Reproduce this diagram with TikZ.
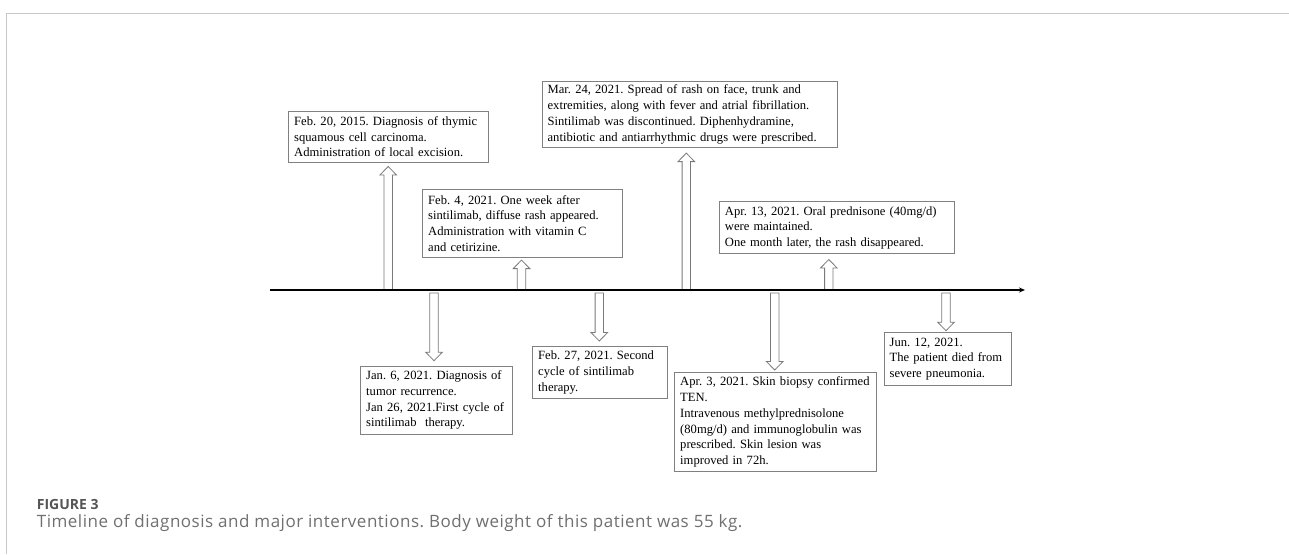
\documentclass[tikz,border=0pt]{standalone}
\usepackage{fontspec}
\setmainfont{Liberation Serif}
\newfontfamily\capfont[LetterSpace=3]{Open Sans}
\newfontfamily\figfont{Open Sans}
\usetikzlibrary{calc,arrows.meta}
\definecolor{boxgray}{HTML}{808080}
\definecolor{arrgray}{HTML}{7A7A7A}
\definecolor{framegray}{HTML}{C8C8C8}
\definecolor{figgray}{HTML}{555555}
\definecolor{capgray}{HTML}{707070}
\newcommand{\boxfont}{\fontsize{12.6}{15.7}\selectfont\frenchspacing}
\newcommand{\blkarrow}[3]{%
  \coordinate (h#1) at ($(#3)!8.5pt!(#2)$);
  \draw[blk] ($(#2)!4.2pt!90:(#3)$) -- ($(h#1)!4.2pt!90:(#3)$) -- ($(h#1)!8.3pt!90:(#3)$) -- (#3)
    -- ($(h#1)!8.3pt!-90:(#3)$) -- ($(h#1)!4.2pt!-90:(#3)$) -- ($(#2)!4.2pt!-90:(#3)$) -- cycle;}
\begin{document}
\begin{tikzpicture}[x=1pt,y=-1pt,
  evbox/.style={draw=boxgray, line width=0.8pt, fill=white, anchor=north west,
    inner xsep=5.5pt, inner ysep=1pt, align=left, font=\boxfont},
  blk/.style={draw=arrgray, line width=0.8pt, fill=white, line join=miter},
  timeline/.style={line width=1.4pt, -{Stealth[length=6pt,width=5pt]}},
  frameline/.style={draw=framegray, line width=1pt}]
\useasboundingbox (0,0) rectangle (1289,554);
\fill[white] (0,0) rectangle (1289,554);
% frame
\coordinate (fA) at (6.5,554);
\coordinate (fB) at (6.5,13.3);
\coordinate (fC) at (1289,13.3);
\draw[frameline] (fA) -- (fB) -- (fC);

% boxes
\node[evbox, text width=189pt, minimum width=200pt, minimum height=51.6pt] (box1) at (288.3,110.7)
 {Feb. 20, 2015. Diagnosis of thymic\\squamous cell carcinoma.\\Administration of local excision.};
\node[evbox, text width=189pt, minimum width=200pt, minimum height=67.4pt] (box2) at (422.3,189.3)
 {Feb. 4, 2021. One week after\\sintilimab, diffuse rash appeared.\\Administration with vitamin C\\and cetirizine.};
\node[evbox, text width=284pt, minimum width=295pt, minimum height=66.6pt] (box3) at (541.7,80.7)
 {Mar. 24, 2021. Spread of rash on face, trunk and\\extremities, along with fever and atrial fibrillation.\\Sintilimab was discontinued. Diphenhydramine,\\antibiotic and antiarrhythmic drugs were prescribed.};
\node[evbox, text width=223.7pt, minimum width=234.7pt, minimum height=52pt] (box4) at (719,201.3)
 {Apr. 13, 2021. Oral prednisone (40mg/d)\\were maintained.\\One month later, the rash disappeared.};
\node[evbox, text width=140.3pt, minimum width=151.3pt, minimum height=68.3pt] (box5) at (360.3,365.7)
 {Jan. 6, 2021. Diagnosis of\\tumor recurrence.\\Jan 26, 2021.First cycle of\\sintilimab\ \ therapy.};
\node[evbox, text width=123.7pt, minimum width=134.7pt, minimum height=52.6pt] (box6) at (532.3,345.7)
 {Feb. 27, 2021. Second\\cycle of sintilimab\\therapy.};
\node[evbox, text width=190.7pt, minimum width=201.7pt, minimum height=98.7pt] (box7) at (674.3,372.3)
 {Apr. 3, 2021. Skin biopsy confirmed\\TEN.\\Intravenous methylprednisolone\\(80mg/d) and immunoglobulin was\\prescribed. Skin lesion was\\improved in 72h.};
\node[evbox, text width=116.3pt, minimum width=127.3pt, minimum height=52.4pt] (box8) at (883.7,332.3)
 {Jun. 12, 2021.\\The patient died from\\severe pneumonia.};

% arrow bases on the timeline
\coordinate (b1) at (388.2,289.5);
\coordinate (b2) at (521.5,289.5);
\coordinate (b3) at (686.3,289.5);
\coordinate (b4) at (828.8,289.5);
\coordinate (b5) at (434,293);
\coordinate (b6) at (599.3,293);
\coordinate (b7) at (774.7,293);
\coordinate (b8) at (946,293);
% arrow tips near boxes
\coordinate (t1) at ($(b1 |- box1.south)+(0,3.4)$);
\coordinate (t2) at ($(b2 |- box2.south)+(0,2.6)$);
\coordinate (t3) at ($(b3 |- box3.south)+(0,5)$);
\coordinate (t4) at ($(b4 |- box4.south)+(0,5.4)$);
\coordinate (t5) at ($(b5 |- box5.north)+(0,-5)$);
\coordinate (t6) at ($(b6 |- box6.north)+(0,-4.7)$);
\coordinate (t7) at ($(b7 |- box7.north)+(0,-2.3)$);
\coordinate (t8) at ($(b8 |- box8.north)+(0,-1.6)$);

\blkarrow{1}{b1}{t1}
\blkarrow{2}{b2}{t2}
\blkarrow{3}{b3}{t3}
\blkarrow{4}{b4}{t4}
\blkarrow{5}{b5}{t5}
\blkarrow{6}{b6}{t6}
\blkarrow{7}{b7}{t7}
\blkarrow{8}{b8}{t8}

% timeline
\coordinate (tl0) at (270,290);
\coordinate (tl1) at (1025,290);
\draw[timeline] (tl0) -- (tl1);

% caption
\node[anchor=base west, inner sep=0pt, text=figgray, font=\figfont\bfseries\fontsize{14}{16}\selectfont] (fig) at (36.7,509) {FIGURE 3};
\node[anchor=base west, inner sep=0pt, text=capgray, font=\capfont\fontsize{17}{19}\selectfont\frenchspacing] (cap) at (36.7,527.3)
 {Timeline of diagnosis and major interventions. Body weight of this patient was 55 kg.};
\end{tikzpicture}
\end{document}
